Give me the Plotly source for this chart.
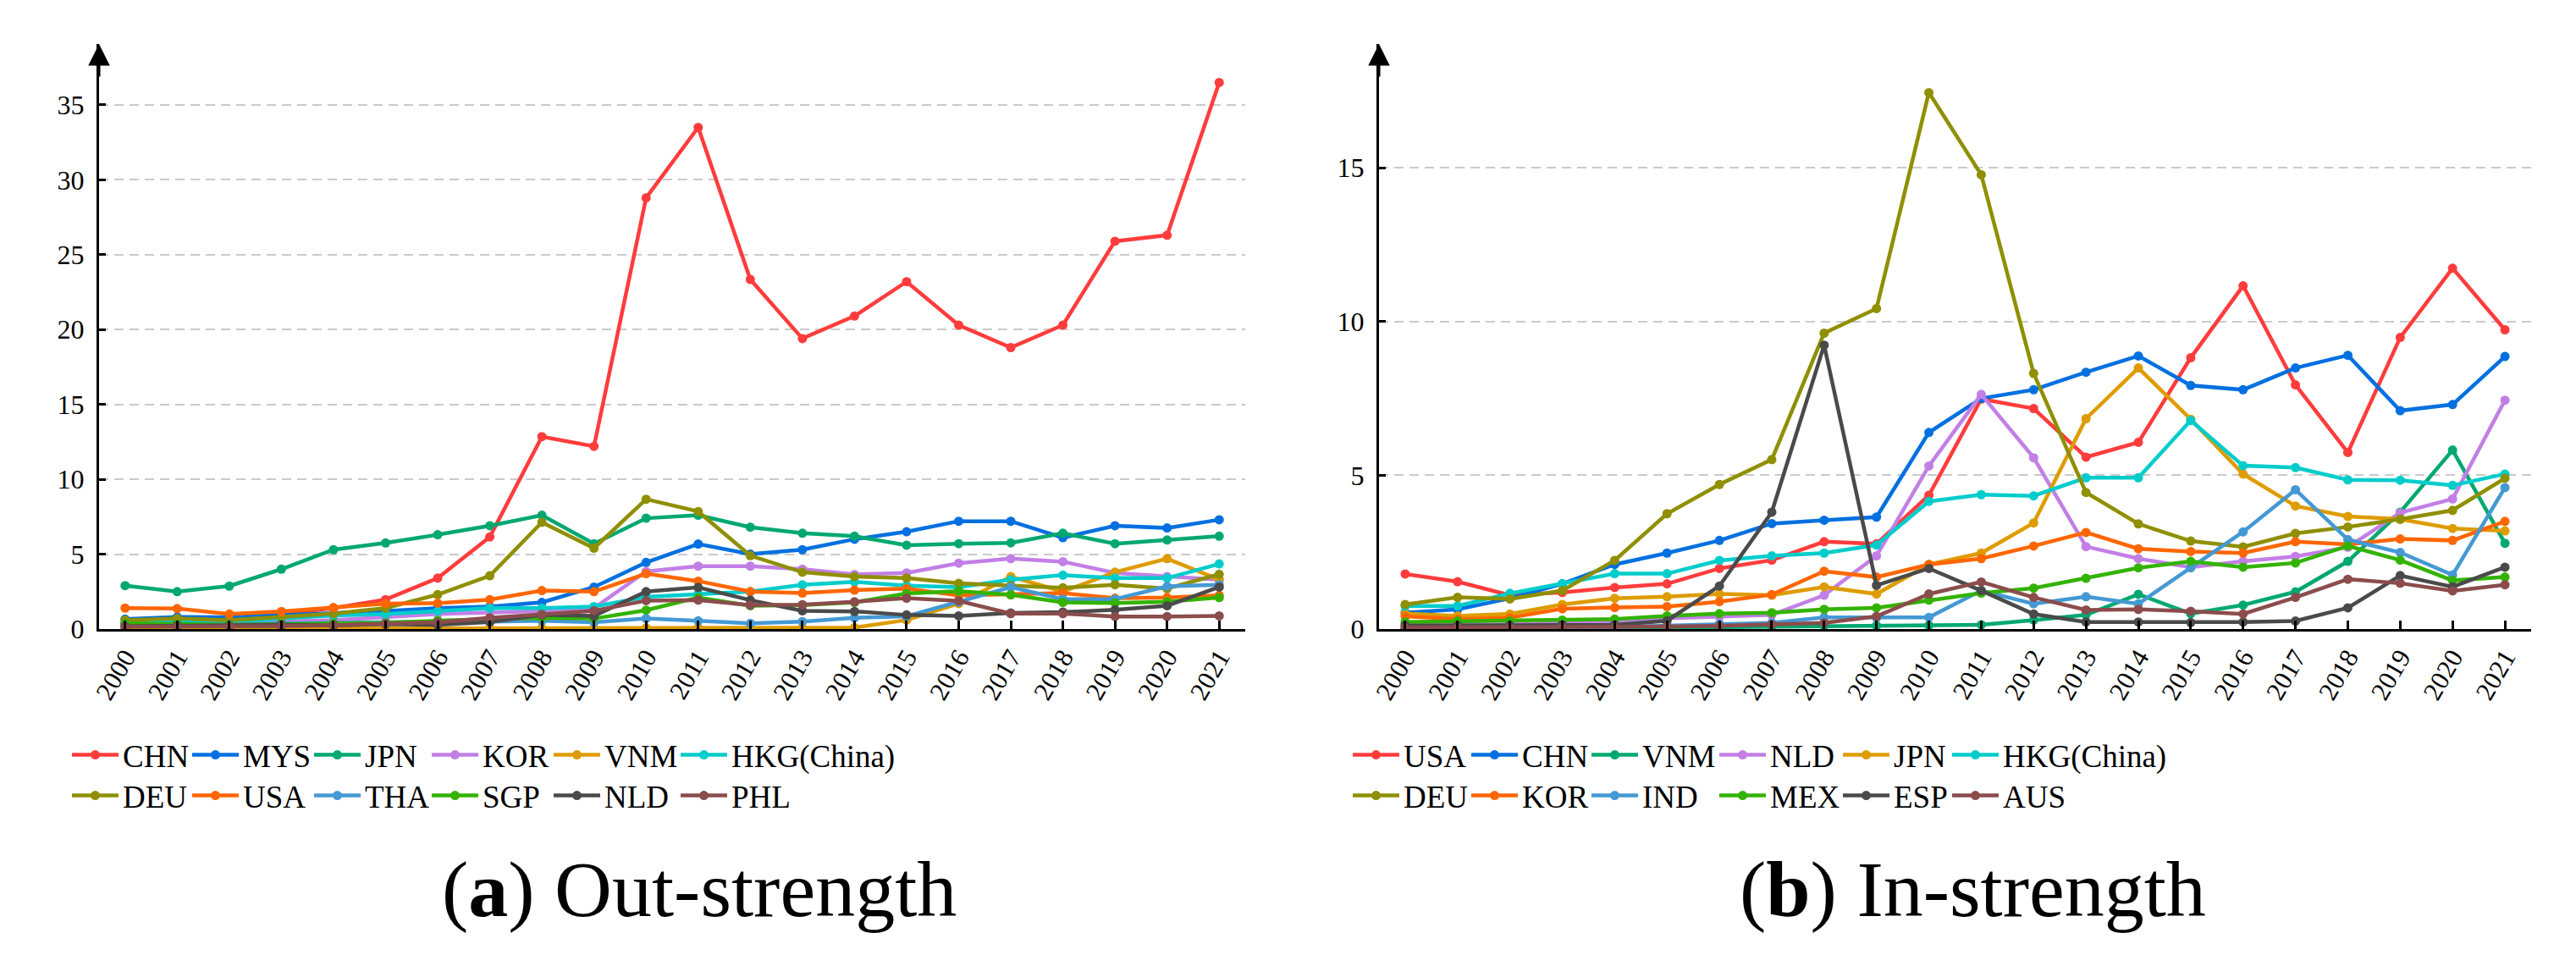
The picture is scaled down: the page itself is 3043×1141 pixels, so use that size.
import plotly.graph_objects as go

# ---------------- data ----------------
years = list(range(2000, 2022))
year_labels = [str(y) for y in years]

out_names = ["CHN", "MYS", "JPN", "KOR", "VNM", "HKG(China)",
             "DEU", "USA", "THA", "SGP", "NLD", "PHL"]
out_CHN = [0.3, 0.45, 0.6, 1.0, 1.4, 1.97, 3.4, 6.15, 12.85, 12.2, 28.8, 33.5, 23.35, 19.4, 20.9, 23.2, 20.3, 18.8, 20.3, 25.9, 26.3, 36.5]
out_MYS = [0.66, 0.8, 0.79, 0.94, 1.03, 1.2, 1.4, 1.5, 1.78, 2.8, 4.45, 5.68, 5.0, 5.3, 6.0, 6.5, 7.2, 7.2, 6.1, 6.9, 6.75, 7.3]
out_JPN = [2.9, 2.5, 2.87, 4.0, 5.3, 5.75, 6.3, 6.9, 7.6, 5.7, 7.4, 7.6, 6.8, 6.4, 6.2, 5.6, 5.7, 5.76, 6.4, 5.7, 5.95, 6.2]
out_KOR = [0.3, 0.35, 0.4, 0.5, 0.6, 0.8, 1.0, 1.1, 1.2, 1.4, 3.85, 4.2, 4.2, 4.0, 3.65, 3.75, 4.4, 4.7, 4.5, 3.75, 3.5, 3.3]
out_VNM = [0.02, 0.02, 0.03, 0.03, 0.04, 0.04, 0.05, 0.05, 0.06, 0.06, 0.07, 0.08, 0.08, 0.09, 0.1, 0.6, 1.7, 3.5, 2.5, 3.8, 4.7, 3.3]
out_HKG = [0.4, 0.45, 0.5, 0.7, 0.9, 1.0, 1.2, 1.4, 1.4, 1.5, 2.15, 2.35, 2.5, 2.95, 3.15, 2.9, 2.8, 3.3, 3.6, 3.4, 3.4, 4.35]
out_DEU = [0.6, 0.7, 0.6, 0.8, 1.03, 1.4, 2.3, 3.56, 7.13, 5.4, 8.67, 7.85, 4.9, 3.8, 3.5, 3.4, 3.06, 2.9, 2.75, 2.96, 2.7, 3.66]
out_USA = [1.4, 1.37, 1.0, 1.18, 1.44, 1.7, 1.73, 1.97, 2.57, 2.5, 3.7, 3.2, 2.5, 2.4, 2.6, 2.7, 2.25, 2.3, 2.4, 2.06, 2.1, 2.25]
out_THA = [0.25, 0.3, 0.3, 0.35, 0.4, 0.45, 0.5, 0.5, 0.55, 0.45, 0.7, 0.55, 0.38, 0.5, 0.75, 0.85, 1.8, 2.8, 2.0, 2.0, 2.85, 2.96]
out_SGP = [0.38, 0.32, 0.28, 0.33, 0.38, 0.41, 0.56, 0.66, 0.75, 0.7, 1.26, 2.1, 1.56, 1.6, 1.78, 2.38, 2.53, 2.29, 1.78, 1.74, 1.82, 2.1]
out_NLD = [0.19, 0.22, 0.19, 0.28, 0.24, 0.32, 0.28, 0.47, 0.94, 0.88, 2.5, 2.78, 1.93, 1.22, 1.18, 0.94, 0.88, 1.07, 1.13, 1.28, 1.56, 2.8]
out_PHL = [0.15, 0.15, 0.15, 0.2, 0.25, 0.35, 0.45, 0.75, 0.98, 1.22, 1.9, 1.93, 1.6, 1.63, 1.82, 2.06, 1.88, 1.03, 1.03, 0.84, 0.84, 0.88]

in_names = ["USA", "CHN", "VNM", "NLD", "JPN", "HKG(China)",
            "DEU", "KOR", "IND", "MEX", "ESP", "AUS"]
in_USA = [1.79, 1.54, 1.1, 1.19, 1.35, 1.47, 1.97, 2.24, 2.84, 2.77, 4.35, 7.48, 7.17, 5.59, 6.07, 8.82, 11.16, 7.94, 5.74, 9.48, 11.73, 9.73]
in_CHN = [0.53, 0.64, 1.0, 1.47, 2.1, 2.47, 2.88, 3.43, 3.54, 3.64, 6.39, 7.5, 7.78, 8.35, 8.88, 7.92, 7.78, 8.49, 8.9, 7.1, 7.3, 8.86]
in_VNM = [0.02, 0.02, 0.03, 0.03, 0.04, 0.05, 0.06, 0.08, 0.11, 0.11, 0.12, 0.14, 0.29, 0.46, 1.13, 0.5, 0.78, 1.21, 2.2, 3.8, 5.82, 2.79]
in_NLD = [0.15, 0.15, 0.15, 0.2, 0.25, 0.35, 0.4, 0.46, 1.1, 2.38, 5.3, 7.63, 5.57, 2.68, 2.29, 2.01, 2.2, 2.36, 2.66, 3.78, 4.23, 7.44]
in_JPN = [0.5, 0.43, 0.49, 0.8, 1.0, 1.05, 1.14, 1.1, 1.37, 1.14, 2.1, 2.47, 3.45, 6.84, 8.49, 6.82, 5.04, 4.0, 3.66, 3.57, 3.27, 3.19]
in_HKG = [0.75, 0.75, 1.16, 1.47, 1.8, 1.8, 2.23, 2.38, 2.47, 2.73, 4.15, 4.37, 4.33, 4.92, 4.92, 6.78, 5.31, 5.25, 4.85, 4.84, 4.67, 5.04]
in_DEU = [0.8, 1.03, 0.98, 1.25, 2.23, 3.75, 4.7, 5.51, 9.62, 10.42, 17.44, 14.77, 8.31, 4.44, 3.42, 2.86, 2.67, 3.11, 3.32, 3.57, 3.86, 4.9]
in_KOR = [0.41, 0.32, 0.37, 0.66, 0.7, 0.73, 0.89, 1.12, 1.88, 1.69, 2.1, 2.29, 2.7, 3.14, 2.61, 2.52, 2.47, 2.84, 2.75, 2.93, 2.88, 3.5]
in_IND = [0.02, 0.03, 0.04, 0.05, 0.06, 0.11, 0.16, 0.2, 0.38, 0.37, 0.38, 1.25, 0.82, 1.05, 0.82, 1.99, 3.16, 4.53, 2.91, 2.49, 1.76, 4.6]
in_MEX = [0.23, 0.26, 0.26, 0.29, 0.32, 0.43, 0.5, 0.53, 0.64, 0.69, 0.94, 1.17, 1.33, 1.65, 1.99, 2.2, 2.01, 2.15, 2.7, 2.24, 1.58, 1.69]
in_ESP = [0.11, 0.11, 0.12, 0.14, 0.14, 0.27, 1.4, 3.8, 9.23, 1.42, 1.97, 1.25, 0.49, 0.23, 0.23, 0.21, 0.23, 0.26, 0.69, 1.74, 1.37, 2.01]
in_AUS = [0.05, 0.05, 0.05, 0.06, 0.07, 0.08, 0.1, 0.15, 0.2, 0.41, 1.14, 1.53, 1.03, 0.62, 0.64, 0.58, 0.49, 1.03, 1.62, 1.49, 1.24, 1.44]

out_series = [out_CHN, out_MYS, out_JPN, out_KOR, out_VNM, out_HKG,
              out_DEU, out_USA, out_THA, out_SGP, out_NLD, out_PHL]
in_series = [in_USA, in_CHN, in_VNM, in_NLD, in_JPN, in_HKG,
             in_DEU, in_KOR, in_IND, in_MEX, in_ESP, in_AUS]

palette = ["#ff3c3c", "#0070e0", "#00a870", "#c27fe6", "#de9c00", "#00cccc",
           "#8f8f00", "#ff6600", "#4499d4", "#33b300", "#4a4a4a", "#8b4c4c"]

out_ticks = [0, 5, 10, 15, 20, 25, 30, 35]
in_ticks = [0, 5, 10, 15]
captions = ["(<b>a</b>) Out-strength", "(<b>b</b>) In-strength"]

# ---------------- figure ----------------
FONT = "Liberation Serif"
OFF = 8                       # default body margin of the html page
W, H = 3043 - OFF, 1141 - OFF


def px(v):                   # target page pixel -> figure pixel
    return v - OFF


ITEMW = 55
# legend column pitches (px between successive columns), last entry = last column
pitch_a = [142, 144, 139, 144, 150, 300]
pitch_b = [140, 142, 151, 146, 129, 300]
lw_a = [p - (ITEMW + 15) for p in pitch_a]
lw_b = [p - (ITEMW + 15) for p in pitch_b]

fig = go.Figure()

for i, (nm, vals) in enumerate(zip(out_names, out_series)):
    fig.add_trace(go.Scatter(
        x=years, y=vals, name=nm, mode="lines+markers",
        line=dict(color=palette[i], width=4.5),
        marker=dict(size=11, color=palette[i]),
        xaxis="x", yaxis="y",
        legendwidth=lw_a[i % 6],
        legend="legend" if i < 6 else "legend2"))

for i, (nm, vals) in enumerate(zip(in_names, in_series)):
    fig.add_trace(go.Scatter(
        x=years, y=vals, name=nm, mode="lines+markers",
        line=dict(color=palette[i], width=4.5),
        marker=dict(size=11, color=palette[i]),
        xaxis="x2", yaxis="y2",
        legendwidth=lw_b[i % 6],
        legend="legend3" if i < 6 else "legend4"))

xcommon = dict(range=[1999.5, 2021.5], tickmode="array", tickvals=years,
               ticktext=year_labels, tickangle=-60, ticks="inside",
               ticklen=10, tickwidth=2.5, tickcolor="black",
               showline=True, linewidth=3, linecolor="black",
               showgrid=False, zeroline=False,
               tickfont=dict(family=FONT, size=31, color="black"))
ycommon = dict(ticks="inside", ticklen=8, tickwidth=3, tickcolor="black",
               showline=True, linewidth=3, linecolor="black",
               showgrid=True, gridcolor="#cacaca", gridwidth=2.2,
               griddash="11px,7px", zeroline=False,
               ticklabelstandoff=8,
               tickfont=dict(family=FONT, size=32, color="black"))

L, T = px(117), px(52)
B = H - px(743)
R = W - px(2990)
pw = W - L - R
ph = H - T - B
dom_a = [0, (px(1471) - L) / pw]
dom_b = [(px(1629) - L) / pw, 1]

legcommon = dict(orientation="h", xref="container", yref="container",
                 xanchor="left", yanchor="middle",
                 font=dict(family=FONT, size=37, color="black"),
                 itemwidth=ITEMW, entrywidthmode="pixels",
                 bgcolor="rgba(0,0,0,0)", traceorder="normal",
                 tracegroupgap=0, borderwidth=0)
row1_y = 1 - px(892) / H
row2_y = 1 - px(940) / H

fig.update_layout(
    width=W, height=H, autosize=False,
    margin=dict(l=L, r=R, t=T, b=B, pad=0),
    paper_bgcolor="white", plot_bgcolor="white",
    font=dict(family=FONT, size=37, color="black"),
    xaxis=dict(domain=dom_a, anchor="y", **xcommon),
    yaxis=dict(domain=[0, 1], anchor="x", range=[0, 39.07],
               tickmode="array", tickvals=out_ticks, **ycommon),
    xaxis2=dict(domain=dom_b, anchor="y2", **xcommon),
    yaxis2=dict(domain=[0, 1], anchor="x2", range=[0, 19.02],
                tickmode="array", tickvals=in_ticks, **ycommon),
    legend=dict(x=px(80) / W, y=row1_y, **legcommon),
    legend2=dict(x=px(80) / W, y=row2_y, **legcommon),
    legend3=dict(x=px(1593) / W, y=row1_y, **legcommon),
    legend4=dict(x=px(1593) / W, y=row2_y, **legcommon),
    showlegend=True,
)

# axis arrows
for xr, yr in (("x domain", "y domain"), ("x2 domain", "y2 domain")):
    fig.add_annotation(x=0, y=1, xref=xr, yref=yr, text="", showarrow=True,
                       ax=0, ay=40, axref="pixel", ayref="pixel",
                       arrowhead=2, arrowsize=1.7, arrowwidth=3,
                       arrowcolor="black", standoff=0)

# captions
cap_y = (px(743) - px(1050)) / ph
for cx, txt in ((826, captions[0]), (2330, captions[1])):
    fig.add_annotation(x=(px(cx) - L) / pw, y=cap_y, xref="paper", yref="paper",
                       text=txt, showarrow=False, xanchor="center",
                       yanchor="middle",
                       font=dict(family=FONT, size=94, color="black"))

fig.write_html("out.html", config={"displayModeBar": False})
